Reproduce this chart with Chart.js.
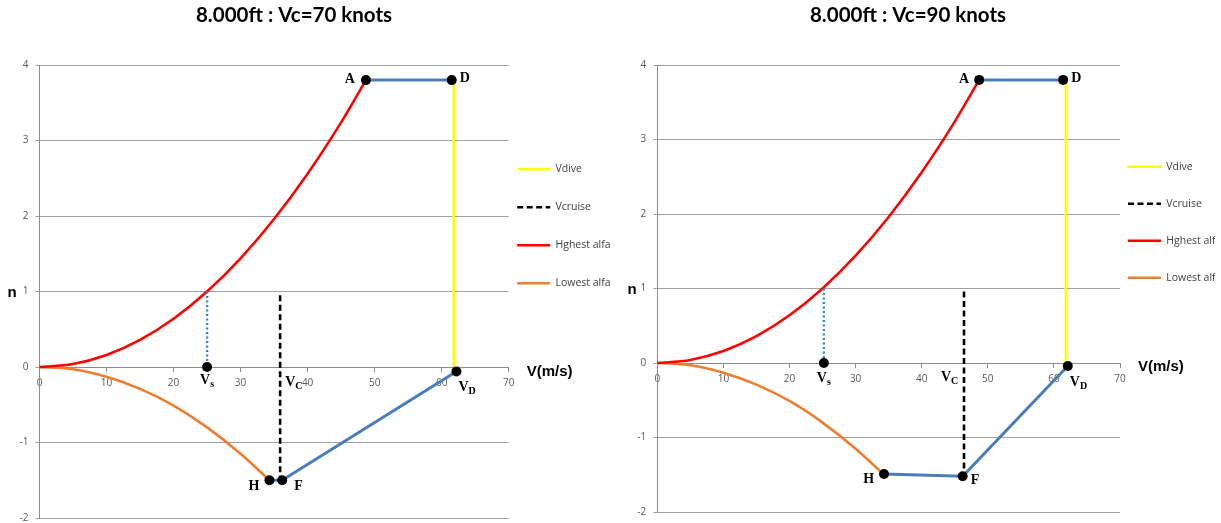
<!DOCTYPE html>
<html>
<head>
<meta charset="utf-8">
<title>Manoeuvre envelope, 8.000ft</title>
<script src="https://cdn.jsdelivr.net/npm/chart.js@4.4.1/dist/chart.umd.min.js"></script>
<style>
  html, body { margin: 0; padding: 0; background: #ffffff; overflow: hidden; width: 1221px; height: 523px; }
  canvas { position: absolute; top: 0; }
  #vc70 { left: 0; }
  #vc90 { left: 620px; }
</style>
</head>
<body>
<canvas id="vc70" width="620" height="531"></canvas>
<canvas id="vc90" width="601" height="525"></canvas>
<script>
// V-n diagram at 8.000 ft: load factor n against airspeed V (m/s), two cruise speeds.

// axis ticks
const speedTicks = [0, 10, 20, 30, 40, 50, 60, 70];
const loadTicks = [-2, -1, 0, 1, 2, 3, 4];
const legendNames = ['Vdive', 'Vcruise', 'Hghest alfa', 'Lowest alfa'];

// stall curve at the highest angle of attack (same altitude for both charts)
const highAlfaV = [0, 5, 10, 15, 20, 25, 30, 35, 40, 45, 48.7];
const highAlfaN = [0, 0.04, 0.16, 0.36, 0.64, 1.0, 1.44, 1.96, 2.56, 3.24, 3.8];

// stall curve at the lowest (negative) angle of attack
const lowAlfaV = [0, 5, 10, 15, 20, 25, 30, 34.3];
const lowAlfaN = [0, -0.03, -0.13, -0.29, -0.51, -0.8, -1.15, -1.5];

// ---- Vc = 70 knots ----
const c70Title = '8.000ft : Vc=70 knots';
const c70PointNames = ['A', 'D', 'H', 'F', 'V_D', 'V_s'];
const c70PointV = [48.7, 61.5, 34.3, 36.2, 62.2, 25.0];
const c70PointN = [3.8, 3.8, -1.5, -1.5, -0.06, 0];
const c70DiveV = [61.8, 61.8];
const c70DiveN = [3.8, 0];
const c70CruiseV = [35.9, 35.9];
const c70CruiseN = [0.95, -1.5];
const c70StallV = [25.0, 25.0];
const c70StallN = [1, 0];

// ---- Vc = 90 knots ----
const c90Title = '8.000ft : Vc=90 knots';
const c90PointNames = ['A', 'D', 'H', 'F', 'V_D', 'V_s'];
const c90PointV = [48.7, 61.4, 34.3, 46.2, 62.1, 25.2];
const c90PointN = [3.8, 3.8, -1.49, -1.52, -0.04, 0];
const c90DiveV = [61.8, 61.8];
const c90DiveN = [3.8, 0];
const c90CruiseV = [46.4, 46.4];
const c90CruiseN = [0.96, -1.52];
const c90StallV = [25.2, 25.2];
const c90StallN = [1, 0];

// ---------------------------------------------------------------
const COLORS = {
  dive: '#FFFF00', cruise: '#000000', high: '#FF0000', low: '#ED7D31',
  envelope: '#4A7EBB', stall: '#2E86D1', dot: '#000000',
  grid: '#A0A0A0', axis: '#8C8C8C', tick: '#595959', legend: '#404040'
};
const SMALL_FONT = 'Open Sans';

const pts = (xs, ys) => xs.map((v, i) => ({ x: v, y: ys[i] }));
const pick = (names, xs, ys, list) => list.map(n => {
  const i = names.indexOf(n);
  return { x: xs[i], y: ys[i] };
});

// text placed next to named points, offsets in px
const c70LabelStyle = {
  A: { dx: -11, dy: -1, align: 'right' },
  D: { dx: 8, dy: -2, align: 'left' },
  H: { dx: -10, dy: 6, align: 'right' },
  F: { dx: 12, dy: 6, align: 'left' },
  V_D: { dx: 2, dy: 16, align: 'left' },
  V_s: { dx: -7, dy: 13, align: 'left' },
  V_C: { dx: 5, dy: 15, align: 'left' }
};
const c90LabelStyle = {
  A: { dx: -10, dy: -1, align: 'right' },
  D: { dx: 8, dy: -2, align: 'left' },
  H: { dx: -10, dy: 5.5, align: 'right' },
  F: { dx: 8, dy: 4.5, align: 'left' },
  V_D: { dx: 2, dy: 16, align: 'left' },
  V_s: { dx: -7, dy: 15, align: 'left' },
  V_C: { dx: -23, dy: 14, align: 'left' }
};

// title, axis names and point names drawn over the plot
const envelopeText = {
  id: 'envelopeText',
  afterDraw(chart, args, o) {
    const { ctx, chartArea } = chart;
    const xs = chart.scales.x, ys = chart.scales.y;
    ctx.save();
    ctx.textBaseline = 'middle';
    ctx.fillStyle = '#000000';

    ctx.font = 'bold 20.5px Lato';
    ctx.textAlign = 'center';
    ctx.fillText(o.title, o.titleX, 15.5);

    ctx.font = 'bold 15px "Liberation Sans"';
    ctx.fillText('n', o.nX, ys.getPixelForValue(1) + 1);
    ctx.textAlign = 'left';
    ctx.fillText('V(m/s)', chartArea.right + 18, ys.getPixelForValue(0) + o.vOffset);

    const drawName = (name, px, py, st) => {
      const [main, sub] = name.split('_');
      ctx.font = 'bold 14px "Liberation Serif"';
      const mw = ctx.measureText(main).width;
      let sw = 0;
      if (sub) { ctx.font = 'bold 10px "Liberation Serif"'; sw = ctx.measureText(sub).width; }
      let x0 = px + st.dx;
      if (st.align === 'right') x0 -= mw + sw;
      const y0 = py + st.dy;
      ctx.textAlign = 'left';
      ctx.font = 'bold 14px "Liberation Serif"';
      ctx.fillText(main, x0, y0);
      if (sub) {
        ctx.font = 'bold 10px "Liberation Serif"';
        ctx.fillText(sub, x0 + mw, y0 + 4);
      }
    };
    o.names.forEach((n, i) => {
      drawName(n, xs.getPixelForValue(o.v[i]), ys.getPixelForValue(o.n[i]), o.style[n]);
    });
    drawName('V_C', xs.getPixelForValue(o.cruiseV), ys.getPixelForValue(0), o.style.V_C);
    ctx.restore();
  }
};

function buildChart(canvasId, d) {
  const lineSet = (label, data, color, width, extra) => Object.assign({
    label, data, showLine: true, borderColor: color, backgroundColor: color,
    borderWidth: width, pointRadius: 0, pointHoverRadius: 0, clip: false
  }, extra || {});

  const datasets = [
    { label: 'points', data: pts(d.pointV, d.pointN), showLine: false, pointRadius: 5,
      pointBackgroundColor: COLORS.dot, pointBorderWidth: 0, clip: false },
    lineSet(legendNames[1], pts(d.cruiseV, d.cruiseN), COLORS.cruise, 2.6, { borderDash: [6, 3.5] }),
    lineSet('stall speed', pts(d.stallV, d.stallN), COLORS.stall, 2.4, { borderDash: [2, 2.5] }),
    lineSet(legendNames[0], pts(d.diveV, d.diveN), COLORS.dive, 2.5),
    lineSet('upper limit', pick(d.pointNames, d.pointV, d.pointN, ['A', 'D']), COLORS.envelope, 3),
    lineSet('lower limit', pick(d.pointNames, d.pointV, d.pointN, ['H', 'F', 'V_D']), COLORS.envelope, 3),
    lineSet(legendNames[2], pts(highAlfaV, highAlfaN), COLORS.high, 2.6, { cubicInterpolationMode: 'monotone' }),
    lineSet(legendNames[3], pts(lowAlfaV, lowAlfaN), COLORS.low, 2.6, { cubicInterpolationMode: 'monotone' })
  ];
  const legendOrder = [3, 1, 6, 7];

  return new Chart(document.getElementById(canvasId), {
    type: 'scatter',
    data: { datasets },
    plugins: [envelopeText],
    options: {
      responsive: false,
      animation: false,
      devicePixelRatio: 1,
      events: [],
      layout: { padding: { top: 65, left: 0, right: d.padRight, bottom: 0 } },
      scales: {
        x: {
          type: 'linear', min: 0, max: 70, position: { y: 0 },
          afterBuildTicks: s => { s.ticks = speedTicks.map(v => ({ value: v })); },
          afterFit: s => { s.height = 0; },
          ticks: { color: COLORS.tick, padding: 6, font: { family: SMALL_FONT, size: 10 }, maxRotation: 0 },
          grid: { drawOnChartArea: false, drawTicks: true, tickLength: 4, color: COLORS.axis },
          border: { color: COLORS.axis, width: 1 }
        },
        y: {
          type: 'linear', min: -2, max: 4, position: 'left',
          afterBuildTicks: s => { s.ticks = loadTicks.map(v => ({ value: v })); },
          afterFit: s => { s.width = d.axisWidth; },
          ticks: { color: COLORS.tick, padding: 7, font: { family: SMALL_FONT, size: 10 } },
          grid: { color: COLORS.grid, tickLength: 4, drawTicks: true },
          border: { color: COLORS.axis, width: 1 }
        }
      },
      plugins: {
        tooltip: { enabled: false },
        legend: {
          position: 'right', align: 'start', maxWidth: d.legendWidth,
          title: { display: true, text: ' ', font: { size: 10 }, padding: { top: d.legendTop, bottom: 0 } },
          labels: {
            usePointStyle: true, pointStyleWidth: 33, padding: d.legendPad,
            font: { family: SMALL_FONT, size: 10.5 }, color: COLORS.legend,
            generateLabels(chart) {
              const items = [];
              legendOrder.forEach((idx, k) => {
                const ds = chart.data.datasets[idx];
                if (k > 0) {
                  items.push({ text: '', fontColor: 'rgba(0,0,0,0)', strokeStyle: 'rgba(0,0,0,0)',
                    fillStyle: 'rgba(0,0,0,0)', lineWidth: 0, pointStyle: 'line', hidden: false, datasetIndex: -1 });
                }
                items.push({ text: ds.label, fontColor: COLORS.legend, strokeStyle: ds.borderColor,
                  fillStyle: ds.borderColor, lineWidth: ds.borderWidth, lineDash: ds.borderDash || [],
                  pointStyle: 'line', hidden: false, datasetIndex: idx });
              });
              return items;
            }
          }
        },
        envelopeText: {
          title: d.title, titleX: d.titleX, nX: 12, vOffset: d.vOffset,
          names: d.pointNames, v: d.pointV, n: d.pointN, style: d.labelStyle, cruiseV: d.cruiseV[0]
        }
      }
    }
  });
}

buildChart('vc70', {
  title: c70Title, titleX: 294, pointNames: c70PointNames, pointV: c70PointV, pointN: c70PointN,
  diveV: c70DiveV, diveN: c70DiveN, cruiseV: c70CruiseV, cruiseN: c70CruiseN,
  stallV: c70StallV, stallN: c70StallN, labelStyle: c70LabelStyle,
  axisWidth: 39.5, padRight: 6.3, legendWidth: 105, legendPad: 8.5, legendTop: 78.5, vOffset: 5
});
buildChart('vc90', {
  title: c90Title, titleX: 288, pointNames: c90PointNames, pointV: c90PointV, pointN: c90PointN,
  diveV: c90DiveV, diveN: c90DiveN, cruiseV: c90CruiseV, cruiseN: c90CruiseN,
  stallV: c90StallV, stallN: c90StallN, labelStyle: c90LabelStyle,
  axisWidth: 37.3, padRight: 6, legendWidth: 95, legendPad: 8, legendTop: 76.5, vOffset: 4
});
</script>
</body>
</html>
